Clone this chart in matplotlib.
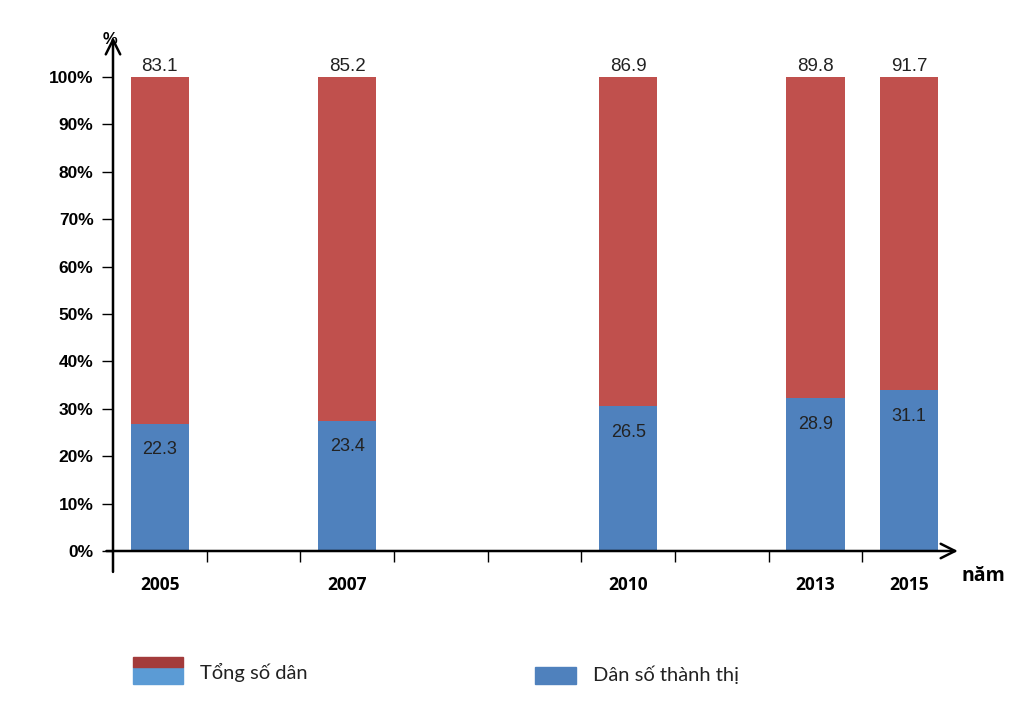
import matplotlib.pyplot as plt
from matplotlib.patches import Rectangle

years = ["2005", "2007", "2010", "2013", "2015"]
slots = [0, 2, 5, 7, 8]          # position of each year among the yearly slots 2005..2015 (gaps kept)
total_pop = [83.1, 85.2, 86.9, 89.8, 91.7]
urban_pop = [22.3, 23.4, 26.5, 28.9, 31.1]

RED = "#C0504D"
BLUE = "#4F81BD"

urban_share = [u / t * 100 for u, t in zip(urban_pop, total_pop)]
rest_share = [100 - s for s in urban_share]

fig = plt.figure(figsize=(10.24, 7.01), dpi=100)
W, H = 1024, 701
left, right, bottom, top = 113, 956, 551, 77
ax = fig.add_axes([left / W, 1 - bottom / H, (right - left) / W, (bottom - top) / H])

ax.bar(slots, urban_share, width=0.62, color=BLUE, zorder=2)
ax.bar(slots, rest_share, width=0.62, bottom=urban_share, color=RED, zorder=2)

for x, t, u, s in zip(slots, total_pop, urban_pop, urban_share):
    ax.text(x, 100.4, f"{t}", ha="center", va="bottom", fontsize=13.5,
            family="Liberation Sans", color="#222222")
    ax.text(x, s - 5.5, f"{u}", ha="center", va="center", fontsize=13,
            family="Liberation Sans", color="#222222")

ax.set_xlim(-0.5, 8.5)
ax.set_ylim(0, 100)
for sp in ax.spines.values():
    sp.set_visible(False)

# axis lines with arrows
ax.annotate("", xy=(-0.5, 109), xytext=(-0.5, -5), xycoords="data",
            arrowprops=dict(arrowstyle="->", lw=1.8, color="black", mutation_scale=26),
            annotation_clip=False)
ax.annotate("", xy=(8.55, 0), xytext=(-0.6, 0), xycoords="data",
            arrowprops=dict(arrowstyle="->", lw=1.8, color="black", mutation_scale=26),
            annotation_clip=False)

ax.set_yticks(range(0, 101, 10))
ax.set_yticklabels([f"{v}%" for v in range(0, 101, 10)], fontsize=12.5,
                   fontweight="bold", family="Liberation Sans")
ax.tick_params(axis="y", direction="out", length=8, width=1, pad=6)

# minor ticks at slot boundaries, labels at bar centres
ax.set_xticks([i + 0.5 for i in range(8)], minor=True)
ax.set_xticks(slots)
ax.set_xticklabels(years, fontsize=12.5, fontweight="bold", family="Open Sans")
ax.tick_params(axis="x", which="major", length=0, pad=18)
ax.tick_params(axis="x", which="minor", direction="out", length=8, width=1)

fig.text(110 / W, 1 - 40 / H, "%", ha="center", va="center", fontsize=12,
         fontweight="bold", family="Liberation Sans")
fig.text(983 / W, 1 - 576 / H, "năm", ha="center", va="center", fontsize=14,
         fontweight="bold", family="Open Sans")

# legend
fig.patches.append(Rectangle((133 / W, 1 - 684 / H), 50 / W, 17 / H,
                             transform=fig.transFigure, color="#5B9BD5"))
fig.patches.append(Rectangle((133 / W, 1 - 667 / H), 50 / W, 10 / H,
                             transform=fig.transFigure, color="#A33B3B"))
fig.text(200 / W, 1 - 672 / H, "Tổng số dân", ha="left", va="center",
         fontsize=14.5, family="Lato", color="#222222")
fig.patches.append(Rectangle((535 / W, 1 - 684 / H), 41 / W, 17 / H,
                             transform=fig.transFigure, color=BLUE))
fig.text(593 / W, 1 - 675 / H, "Dân số thành thị", ha="left", va="center",
         fontsize=14.5, family="Lato", color="#222222")

fig.savefig("out.png", dpi=100)
